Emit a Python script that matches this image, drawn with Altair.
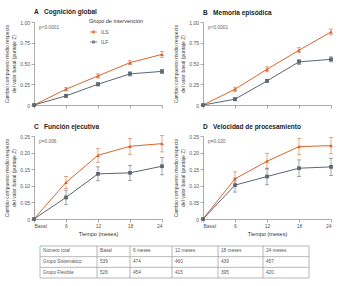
import altair as alt
import pandas as pd

# ---------------- data ----------------
MONTHS = [0, 6, 12, 18, 24]
GROUPS = ["ILS", "ILF"]

A_ILS = [0, 0.19, 0.35, 0.51, 0.61]
A_ILS_ERR = [0, 0.02, 0.025, 0.025, 0.035]
A_ILF = [0, 0.11, 0.25, 0.375, 0.405]
A_ILF_ERR = [0, 0.02, 0.02, 0.025, 0.025]

B_ILS = [0, 0.19, 0.43, 0.66, 0.88]
B_ILS_ERR = [0, 0.025, 0.03, 0.03, 0.035]
B_ILF = [0, 0.07, 0.29, 0.52, 0.55]
B_ILF_ERR = [0, 0.02, 0.02, 0.03, 0.03]

C_ILS = [0, 0.110, 0.192, 0.219, 0.227]
C_ILS_ERR = [0, 0.018, 0.021, 0.024, 0.025]
C_ILF = [0, 0.065, 0.136, 0.139, 0.159]
C_ILF_ERR = [0, 0.022, 0.021, 0.023, 0.026]

D_ILS = [0, 0.121, 0.174, 0.218, 0.221]
D_ILS_ERR = [0, 0.021, 0.024, 0.024, 0.025]
D_ILF = [0, 0.102, 0.128, 0.153, 0.157]
D_ILF_ERR = [0, 0.021, 0.025, 0.025, 0.026]

LETTERS = ["A", "B", "C", "D"]
TITLES = ["Cognición global", "Memoria episódica",
          "Función ejecutiva", "Velocidad de procesamiento"]
PVALS = ["p<0.0001", "p<0.0001", "p=0.006", "p=0.020"]
Y_TITLE = ["Cambio compuesto medio respecto", "del valor basal (puntaje Z)"]
X_TITLE = "Tiempo (meses)"
LEGEND_TITLE = "Grupo de intervención"

TABLE_HEADER = ["Número total", "Basal", "6 meses", "12 meses", "18 meses", "24 meses"]
ROW_LABELS = ["Grupo Sistemático", "Grupo Flexible"]
N_SIS = [539, 474, 460, 439, 457]
N_FLEX = [526, 454, 415, 395, 420]

# ---------------- layout / style ----------------
ORANGE = "#d8652c"
GRAY = "#5c6672"
FONT = "Liberation Sans"
SHAPES = ["triangle-up", "square"]
PW, PH = 128, 83
HSPACE, VSPACE = 41, 31
TABLE_X0 = 6
COL_W = [57, 33, 42, 46, 45, 46]
ROW_PX = 10.667
TABLE_RAISE = 4  # table sits a bit closer to the panels than the row spacing
GAP = "\u00a0\u00a0\u00a0"


def make_df(ils, ils_e, ilf, ilf_e):
    rows = []
    for g, vals, errs in ((GROUPS[0], ils, ils_e), (GROUPS[1], ilf, ilf_e)):
        for m, v, e in zip(MONTHS, vals, errs):
            rows.append(dict(mes=m, grupo=g, v=v, lo=v - e, hi=v + e, e=e))
    return pd.DataFrame(rows)


def panel(k, df, ymax, ystep, bottom, legend):
    n = int(round(ymax / ystep))
    yvals = [round(i * ystep, 4) for i in range(n + 1)]
    yscale = alt.Scale(domain=[0, ymax], nice=False)
    yaxis = alt.Axis(
        values=yvals,
        labelExpr="datum.value == 0 ? '0' : format(datum.value, '.2f')",
        title=Y_TITLE,
    )
    xaxis_kw = dict(values=MONTHS, labelExpr="datum.value == 0 ? 'Basal' : datum.label")
    if bottom:
        xaxis = alt.Axis(title=X_TITLE, **xaxis_kw)
    else:
        xaxis = alt.Axis(title=None, labels=False, **xaxis_kw)
    X = alt.X("mes:Q", scale=alt.Scale(domain=[0, 24], nice=False), axis=xaxis)

    def Y(f):
        return alt.Y(f, scale=yscale, axis=yaxis)

    cscale = alt.Scale(domain=GROUPS, range=[ORANGE, GRAY])
    if legend:
        leg = alt.Legend(
            title=LEGEND_TITLE, orient="none", legendX=55, legendY=-3,
            symbolType="M-1,0H1M-0.3,-0.3H0.3V0.3H-0.3Z", symbolSize=50,
            symbolStrokeWidth=1, titleFontSize=5.5, labelFontSize=5,
            titleFontWeight="normal", titleColor="#333", labelColor="#555",
            rowPadding=2, titlePadding=3, labelOffset=3,
        )
        C = alt.Color("grupo:N", scale=cscale, legend=leg)
    else:
        C = alt.Color("grupo:N", scale=cscale, legend=None)

    base = alt.Chart(df)
    line = base.mark_line(strokeWidth=1).encode(x=X, y=Y("v:Q"), color=C)
    bars = base.transform_filter("datum.e > 0")
    rule = bars.mark_rule(strokeWidth=0.7, opacity=0.8).encode(
        x=X, y=Y("lo:Q"), y2="hi:Q", color=C)
    cap_lo = bars.mark_tick(orient="horizontal", size=4, thickness=0.7, opacity=0.8).encode(
        x=X, y=Y("lo:Q"), color=C)
    cap_hi = bars.mark_tick(orient="horizontal", size=4, thickness=0.7, opacity=0.8).encode(
        x=X, y=Y("hi:Q"), color=C)
    layers = [line, rule, cap_lo, cap_hi]
    for g, shp in zip(GROUPS, SHAPES):
        layers.append(
            base.transform_filter(alt.datum.grupo == g)
            .mark_point(filled=True, size=14, opacity=1, shape=shp)
            .encode(x=X, y=Y("v:Q"), color=C)
        )
    ptxt = alt.Chart(pd.DataFrame({"t": [PVALS[k]]})).mark_text(
        align="left", baseline="middle", fontSize=4.8, color="#666", font=FONT
    ).encode(text="t:N", x=alt.value(5), y=alt.value(6))
    layers.append(ptxt)
    return alt.layer(*layers).properties(
        width=PW, height=PH,
        title=alt.Title(LETTERS[k] + GAP + TITLES[k], anchor="start", frame="group",
                        fontSize=6.5, fontWeight="bold", color="#222", offset=4, font=FONT),
    )


pA = panel(0, make_df(A_ILS, A_ILS_ERR, A_ILF, A_ILF_ERR), 1.0, 0.25, False, True)
pB = panel(1, make_df(B_ILS, B_ILS_ERR, B_ILF, B_ILF_ERR), 1.0, 0.25, False, False)
pC = panel(2, make_df(C_ILS, C_ILS_ERR, C_ILF, C_ILF_ERR), 0.25, 0.05, True, False)
pD = panel(3, make_df(D_ILS, D_ILS_ERR, D_ILF, D_ILF_ERR), 0.25, 0.05, True, False)

# ---------------- table (drawn from the first grid column, spanning to the right) ----------------
edges = [TABLE_X0]
for w in COL_W:
    edges.append(edges[-1] + w)
raise_u = TABLE_RAISE / ROW_PX
TABLE_H = (3 - raise_u) * ROW_PX

cells = []
for i, h in enumerate(TABLE_HEADER):
    cells.append(dict(x=edges[i], y=0.5, t=h))
for r, (lab, vals) in enumerate(zip(ROW_LABELS, [N_SIS, N_FLEX])):
    cells.append(dict(x=edges[0], y=r + 1.5, t=lab))
    for i, v in enumerate(vals):
        cells.append(dict(x=edges[i + 1], y=r + 1.5, t=str(v)))
cells = pd.DataFrame(cells)
vlines = pd.DataFrame(dict(x=edges, y0=[0] * len(edges), y1=[3] * len(edges)))
hlines = pd.DataFrame(dict(y=[0, 1, 2, 3], x0=[edges[0]] * 4, x1=[edges[-1]] * 4))

tx = alt.Scale(domain=[0, PW], nice=False, zero=False)
ty = alt.Scale(domain=[raise_u, 3], nice=False, zero=False, reverse=True)
t_text = alt.Chart(cells).mark_text(
    align="left", baseline="middle", dx=3, fontSize=4.7, color="#555", font=FONT
).encode(x=alt.X("x:Q", scale=tx, axis=None), y=alt.Y("y:Q", scale=ty, axis=None), text="t:N")
t_v = alt.Chart(vlines).mark_rule(color="#999", strokeWidth=0.7).encode(
    x=alt.X("x:Q", scale=tx, axis=None), y=alt.Y("y0:Q", scale=ty, axis=None), y2="y1:Q")
t_h = alt.Chart(hlines).mark_rule(color="#999", strokeWidth=0.7).encode(
    y=alt.Y("y:Q", scale=ty, axis=None), x=alt.X("x0:Q", scale=tx, axis=None), x2="x1:Q")
table = alt.layer(t_v, t_h, t_text).properties(width=PW, height=TABLE_H)

chart = alt.concat(
    pA, pB, pC, pD, table, columns=2,
    spacing={"row": VSPACE, "column": HSPACE}, bounds="flush",
).resolve_scale(color="independent", shape="independent").resolve_legend(
    color="independent", shape="independent"
).properties(
    padding={"left": 4, "top": 8, "right": 0, "bottom": 0}, background="white"
).configure_view(stroke=None).configure_axis(
    grid=False, labelFont=FONT, titleFont=FONT, labelFontSize=5, titleFontSize=5,
    titleFontWeight="normal", titleColor="#444", labelColor="#555",
    tickSize=3, tickColor="#888", domainColor="#888", tickWidth=0.7, domainWidth=0.7,
    labelPadding=1.5, titlePadding=3,
).configure_axisX(titleFontSize=5.5, titleColor="#333", titlePadding=3).configure_legend(
    labelFont=FONT, titleFont=FONT
)

chart.save("out.html", embed_options={"renderer": "svg", "actions": False})
